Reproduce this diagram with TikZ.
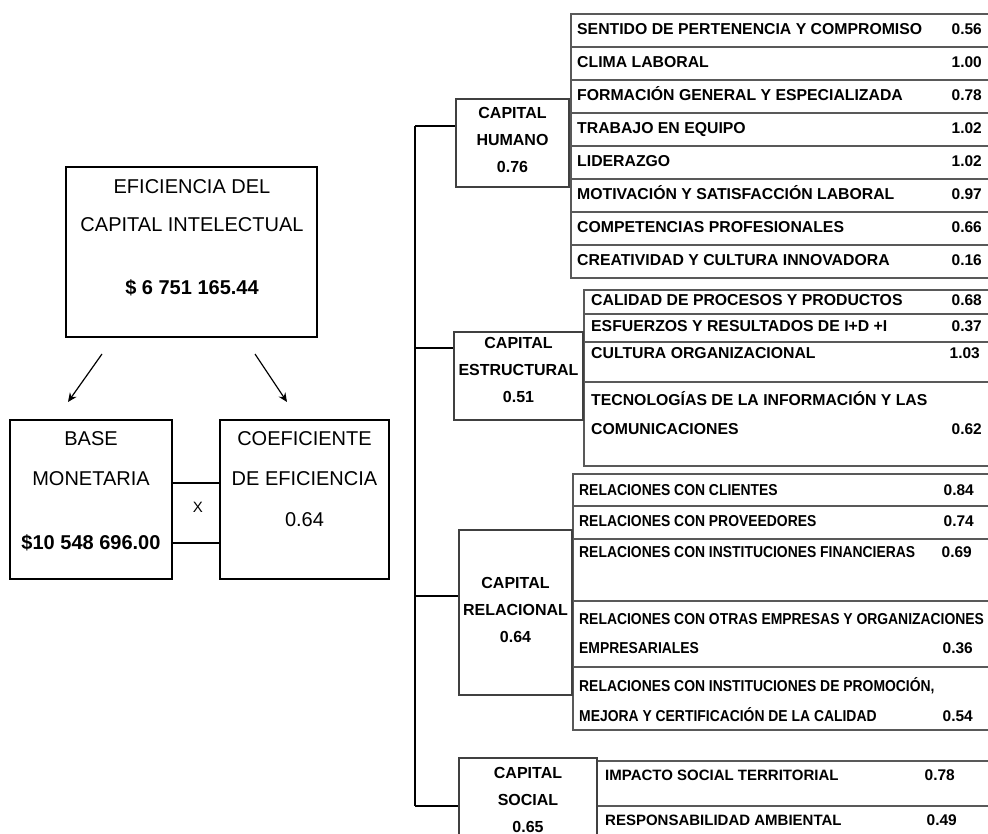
\documentclass[tikz,border=0pt]{standalone}
\usepackage{fontspec}
\setmainfont{Liberation Sans}
\newfontfamily\relfont{Liberation Sans}[FakeStretch=0.88]
\usetikzlibrary{arrows.meta}

\tikzset{
	bigbox/.style={draw, line width=1.4pt, inner sep=0pt},
	capbox/.style={draw=black!75, line width=1.4pt, inner sep=0pt},
	itembox/.style={draw=black!65, line width=1.6pt, inner sep=0pt, anchor=north west},
	bigtxt/.style={font=\fontsize{20}{24}\selectfont, anchor=base, inner sep=0pt},
	captxt/.style={font=\bfseries\fontsize{16}{27}\selectfont, align=center, inner sep=0pt},
	itemtxt/.style={font=\bfseries\fontsize{15.8}{18}\selectfont, anchor=base west, inner sep=0pt},
	reltxt/.style={font=\relfont\bfseries\fontsize{15.8}{18}\selectfont, anchor=base west, inner sep=0pt},
	soctxt/.style={font=\bfseries\fontsize{15}{18}\selectfont, anchor=base west, inner sep=0pt},
	valtxt/.style={font=\bfseries\fontsize{15.5}{18}\selectfont, anchor=base east, inner sep=0pt},
}

\begin{document}
\begin{tikzpicture}[x=1pt, y=-1pt]
				\useasboundingbox (0,0) rectangle (988,834);
				
				%left part
				\node[bigbox, minimum width=251pt, minimum height=170pt] (eci) at (191.5,252) {};
				\node[bigtxt] (eci1) at (192,194) {EFICIENCIA DEL};
				\node[bigtxt] (eci2) at (192,232) {CAPITAL INTELECTUAL};
				\node[bigtxt, font=\bfseries\fontsize{20}{24}\selectfont] (eci3) at (192,295) {\$ 6 751 165.44};
				
				\node[bigbox, minimum width=162pt, minimum height=159pt] (base) at (91,499.5) {};
				\node[bigtxt] (base1) at (91,445) {BASE};
				\node[bigtxt] (base2) at (91,485) {MONETARIA};
				\node[bigtxt, font=\bfseries\fontsize{20}{24}\selectfont] (base3) at (91,549) {\$10 548 696.00};
				
				\node[bigbox, minimum width=169pt, minimum height=159pt] (coef) at (304.5,499.5) {};
				\node[bigtxt] (coef1) at (304.5,445) {COEFICIENTE};
				\node[bigtxt] (coef2) at (304.5,485) {DE EFICIENCIA};
				\node[bigtxt] (coef3) at (304.5,526) {0.64};
				
				\coordinate (a1s) at (102,354);
				\coordinate (a1e) at (68,402);
				\coordinate (a2s) at (255,354);
				\coordinate (a2e) at (287,402);
				\draw[line width=1.2pt, -{Stealth[length=9pt, width=8pt]}] (a1s) -- (a1e);
				\draw[line width=1.2pt, -{Stealth[length=9pt, width=8pt]}] (a2s) -- (a2e);
				
				\draw[line width=1.3pt] ([yshift=16.5pt]base.east) -- ([yshift=16.5pt]coef.west);
				\draw[line width=1.3pt] ([yshift=-43.5pt]base.east) -- ([yshift=-43.5pt]coef.west);
				\node[font=\fontsize{15}{18}\selectfont, anchor=base, inner sep=0pt] (por) at (198,512) {X};
				
				%capital humano
				\foreach \txt/\val [count=\i] in {SENTIDO DE PERTENENCIA Y COMPROMISO/0.56, CLIMA LABORAL/1.00,
					FORMACIÓN GENERAL Y ESPECIALIZADA/0.78, TRABAJO EN EQUIPO/1.02, LIDERAZGO/1.02,
					MOTIVACIÓN  Y SATISFACCIÓN LABORAL/0.97, COMPETENCIAS  PROFESIONALES/0.66,
					CREATIVIDAD Y CULTURA INNOVADORA/0.16}{
					\node[itembox, minimum width=430pt, minimum height=33pt] (hum\i) at (570,{13+33*(\i-1)}) {};
					\node[itemtxt] (humt\i) at (577,{35+33*(\i-1)}) {\txt};
					\node[valtxt] (humv\i) at (982,{35+33*(\i-1)}) {\val};
				}
				\node[capbox, minimum width=113pt, minimum height=88pt] (hum) at (512.5,143) {};
				\node[captxt] (humt) at (512.5,140) {CAPITAL\\HUMANO\\0.76};
				
				%capital estructural
				\node[itembox, minimum width=420pt, minimum height=24pt] (est1) at (583,289) {};
				\node[itembox, minimum width=420pt, minimum height=28pt] (est2) at (583,313) {};
				\node[itembox, minimum width=420pt, minimum height=40pt] (est3) at (583,341) {};
				\node[itembox, minimum width=420pt, minimum height=84pt] (est4) at (583,381) {};
				\node[itemtxt] (estt1) at (591,306) {CALIDAD DE PROCESOS Y PRODUCTOS};
				\node[itemtxt] (estt2) at (591,332) {ESFUERZOS Y RESULTADOS DE  I+D +I};
				\node[itemtxt] (estt3) at (591,358) {CULTURA ORGANIZACIONAL};
				\node[itemtxt] (estt4) at (591,405) {TECNOLOGÍAS DE LA INFORMACIÓN Y LAS};
				\node[itemtxt] (estt5) at (591,434) {COMUNICACIONES};
				\node[valtxt] (estv1) at (982,306) {0.68};
				\node[valtxt] (estv2) at (982,332) {0.37};
				\node[valtxt] (estv3) at (980,358) {1.03};
				\node[valtxt] (estv4) at (982,434) {0.62};
				\node[capbox, minimum width=129pt, minimum height=88pt] (est) at (518.5,376) {};
				\node[captxt] (estt) at (518.5,370) {CAPITAL\\ESTRUCTURAL\\0.51};
				
				%capital relacional
				\node[itembox, minimum width=430pt, minimum height=32pt] (rel1) at (572,473) {};
				\node[itembox, minimum width=430pt, minimum height=33pt] (rel2) at (572,505) {};
				\node[itembox, minimum width=430pt, minimum height=62pt] (rel3) at (572,538) {};
				\node[itembox, minimum width=430pt, minimum height=66pt] (rel4) at (572,600) {};
				\node[itembox, minimum width=430pt, minimum height=63pt] (rel5) at (572,666) {};
				\node[reltxt] (relt1) at (579,495) {RELACIONES CON CLIENTES};
				\node[reltxt] (relt2) at (579,526) {RELACIONES CON PROVEEDORES};
				\node[reltxt] (relt3) at (579,557) {RELACIONES CON INSTITUCIONES FINANCIERAS};
				\node[reltxt] (relt4) at (579,624) {RELACIONES CON OTRAS EMPRESAS Y ORGANIZACIONES};
				\node[reltxt] (relt5) at (579,653) {EMPRESARIALES};
				\node[reltxt] (relt6) at (579,691) {RELACIONES CON INSTITUCIONES DE PROMOCIÓN,};
				\node[reltxt] (relt7) at (579,721) {MEJORA Y CERTIFICACIÓN DE LA CALIDAD};
				\node[valtxt] (relv1) at (974,495) {0.84};
				\node[valtxt] (relv2) at (974,526) {0.74};
				\node[valtxt] (relv3) at (972,557) {0.69};
				\node[valtxt] (relv4) at (973,653) {0.36};
				\node[valtxt] (relv5) at (973,721) {0.54};
				\node[capbox, minimum width=113pt, minimum height=165pt] (rel) at (515.5,612.5) {};
				\node[captxt] (relt) at (515.5,610) {CAPITAL\\RELACIONAL\\0.64};
				
				%capital social
				\node[itembox, minimum width=410pt, minimum height=45pt] (soc1) at (596,760) {};
				\node[itembox, minimum width=410pt, minimum height=60pt] (soc2) at (596,805) {};
				\node[soctxt] (soct1) at (605,780) {IMPACTO SOCIAL TERRITORIAL};
				\node[soctxt] (soct2) at (605,825) {RESPONSABILIDAD AMBIENTAL};
				\node[valtxt] (socv1) at (955,780) {0.78};
				\node[valtxt] (socv2) at (957,825) {0.49};
				\node[capbox, minimum width=138pt, minimum height=102pt] (soc) at (528,809) {};
				\node[captxt] (soct) at (528,800) {CAPITAL\\SOCIAL\\0.65};
				
				%tree
				\coordinate (thum) at (415,126);
				\coordinate (test) at (415,348);
				\coordinate (trel) at (415,596);
				\coordinate (tsoc) at (415,806);
				\draw[line width=1.4pt] (thum) -- (tsoc);
				\draw[line width=1.4pt] (thum) -- (thum -| hum.west);
				\draw[line width=1.4pt] (test) -- (test -| est.west);
				\draw[line width=1.4pt] (trel) -- (trel -| rel.west);
				\draw[line width=1.4pt] (tsoc) -- (tsoc -| soc.west);
			\end{tikzpicture}
\end{document}
